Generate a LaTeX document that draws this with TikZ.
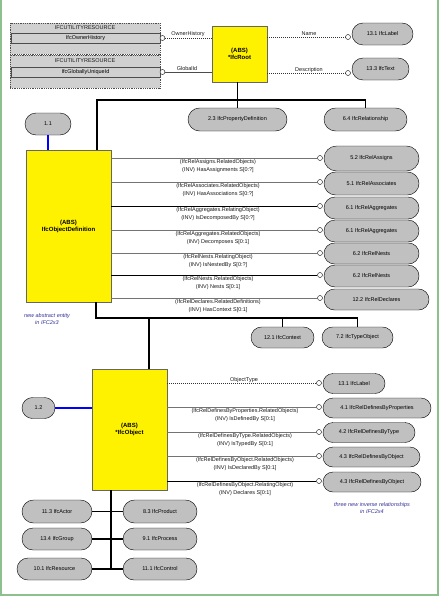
\documentclass[tikz,border=0pt]{standalone}
\usepackage{fontspec}
\setmainfont{Liberation Sans}
\usetikzlibrary{shapes.misc}
\definecolor{ovalgray}{HTML}{C0C0C0}
\definecolor{boxgray}{HTML}{D0D0D0}
\definecolor{notecol}{HTML}{333399}
\definecolor{linkblue}{HTML}{0000FF}
\definecolor{framegreen}{HTML}{8CC08C}
\begin{document}
\begin{tikzpicture}[x=1pt,y=-1pt,
 oval/.style={rounded rectangle, draw=black, fill=ovalgray, font=\fontsize{5.5}{6.5}\selectfont, inner sep=0pt, minimum height=22pt},
 ybox/.style={rectangle, draw=black!60, fill=yellow, font=\fontsize{6}{7}\selectfont\bfseries, align=center, inner sep=0pt},
 circ/.style={circle, draw=black, fill=white, minimum size=5pt, inner sep=0pt},
 rel/.style={draw=black!55, line width=0.6pt},
 relk/.style={draw=black, line width=0.9pt},
 dotrel/.style={draw=black!80, line width=0.7pt, dash pattern=on 1.2pt off 0.8pt},
 tree/.style={draw=black, line width=1.6pt},
 bluelink/.style={draw=linkblue, line width=1.3pt},
 rlab/.style={font=\fontsize{5.5}{7.8}\selectfont, align=center, inner sep=0pt, text=black!90},
 slab/.style={font=\fontsize{5.5}{6.5}\selectfont, inner sep=0pt, text=black!90},
 note/.style={font=\fontsize{5.5}{7}\selectfont\itshape, text=notecol, align=center, inner sep=0pt},
 ubox/.style={rectangle, draw=black!70, dash pattern=on 1pt off 0.8pt, fill=boxgray, inner sep=0pt, minimum width=150pt},
 urow/.style={rectangle, draw=black!70, fill=boxgray, inner sep=0pt, minimum width=149pt, minimum height=10pt, font=\fontsize{5.5}{6.5}\selectfont},
 uhead/.style={font=\fontsize{5.5}{6.5}\selectfont, inner sep=0pt, text=black!90}
]
\useasboundingbox (0,0) rectangle (441,597);
\fill[white] (0,0) rectangle (441,597);
\draw[framegreen, line width=1.5pt] (1,0) -- (1,595) -- (438,595) -- (438,0);

% utility resource boxes
\node[ubox, minimum height=31pt] (ua) at (85,38.5) {};
\node[uhead] (uah) at (85,27.5) {IFCUTILITYRESOURCE};
\node[urow] (uar) at (85.5,38) {IfcOwnerHistory};
\node[ubox, minimum height=33pt] (ub) at (85,71.5) {};
\node[uhead] (ubh) at (85,60.5) {IFCUTILITYRESOURCE};
\node[urow] (ubr) at (85.5,72) {IfcGloballyUniqueId};
\node[circ] (cua) at (162.5,38) {};
\node[circ] (cub) at (162.5,72) {};

% IfcRoot
\node[ybox, minimum width=55pt, minimum height=56pt] (root) at (239.5,54) {(ABS)\\*IfcRoot};
\draw[dotrel] (cua.east) -- (root.west |- cua);
\draw[rel, draw=black!70] (cub.east) -- (root.west |- cub);
\node[slab] (lown) at (188,34) {OwnerHistory};
\node[slab] (lgid) at (187,68.5) {GlobalId};

\node[oval, minimum width=61pt] (lab1) at (382.5,34) {13.1 IfcLabel};
\node[oval, minimum width=57pt] (txt1) at (380.5,69) {13.3 IfcText};
\node[circ] (cn) at (348,37) {};
\node[circ] (cd) at (348,73) {};
\draw[dotrel] (root.east |- cn) -- (cn.west);
\draw[dotrel] (root.east |- cd) -- (cd.west);
\node[slab] (lname) at (309,34) {Name};
\node[slab] (ldesc) at (309,70.5) {Description};

% level 2
\node[oval, minimum width=99pt, minimum height=23pt] (pdef) at (237.5,119.5) {2.3 IfcPropertyDefinition};
\node[oval, minimum width=83pt, minimum height=23pt] (rship) at (365.5,119.5) {6.4 IfcRelationship};
\node[oval, minimum width=46pt] (o11) at (48,124) {1.1};
\node[ybox, minimum width=85pt, minimum height=152pt] (odef) at (68.5,226) {(ABS)\\IfcObjectDefinition};
\coordinate (tl) at (97,100);
\draw[tree] (root.south -| pdef.north) -- (pdef.north);
\draw[tree] (odef.north -| tl) -- (tl) -- (rship.north |- tl) -- (rship.north);
\draw[bluelink] (o11.south) -- (odef.north -| o11.south);

% relationships of IfcObjectDefinition
\node[oval, minimum width=95pt, minimum height=25pt] (r1) at (371.5,158.5) {5.2 IfcRelAssigns};
\node[oval, minimum width=95pt, minimum height=23pt] (r2) at (371.5,183.5) {5.1 IfcRelAssociates};
\node[oval, minimum width=95pt, minimum height=22pt] (r3) at (371.5,208) {6.1 IfcRelAggregates};
\node[oval, minimum width=95pt, minimum height=22pt] (r4) at (371.5,231) {6.1 IfcRelAggregates};
\node[oval, minimum width=95pt, minimum height=21pt] (r5) at (371.5,253.5) {6.2 IfcRelNests};
\node[oval, minimum width=95pt, minimum height=22pt] (r6) at (371.5,276) {6.2 IfcRelNests};
\node[oval, minimum width=105pt, minimum height=21pt] (r7) at (376.5,299.5) {12.2 IfcRelDeclares};
\node[circ] (c1) at (320,158) {};
\node[circ] (c2) at (320,182) {};
\node[circ] (c3) at (320,206) {};
\node[circ] (c4) at (320,230) {};
\node[circ] (c5) at (320,253) {};
\node[circ] (c6) at (320,275) {};
\node[circ] (c7) at (320,298) {};
\draw[rel] (odef.east |- c1) -- (c1.west);
\draw[rel] (odef.east |- c2) -- (c2.west);
\draw[relk] (odef.east |- c3) -- (c3.west);
\draw[rel] (odef.east |- c4) -- (c4.west);
\draw[rel] (odef.east |- c5) -- (c5.west);
\draw[relk] (odef.east |- c6) -- (c6.west);
\draw[rel] (odef.east |- c7) -- (c7.west);
\node[rlab, anchor=north] (t1) at (218,159.5) {(IfcRelAssigns.RelatedObjects)\\(INV) HasAssignments S[0:?]};
\node[rlab, anchor=north] (t2) at (218,183.5) {(IfcRelAssociates.RelatedObjects)\\(INV) HasAssociations S[0:?]};
\node[rlab, anchor=north] (t3) at (218,207.5) {(IfcRelAggregates.RelatingObject)\\(INV) IsDecomposedBy S[0:?]};
\node[rlab, anchor=north] (t4) at (218,231.5) {(IfcRelAggregates.RelatedObjects)\\(INV) Decomposes S[0:1]};
\node[rlab, anchor=north] (t5) at (218,254.5) {(IfcRelNests.RelatingObject)\\(INV) IsNestedBy S[0:?]};
\node[rlab, anchor=north] (t6) at (218,276.5) {(IfcRelNests.RelatedObjects)\\(INV) Nests S[0:1]};
\node[rlab, anchor=north] (t7) at (218,299.5) {(IfcRelDeclares.RelatedDefinitions)\\(INV) HasContext S[0:1]};
\node[note] (n1) at (47,319.5) {new abstract entity\\in IFC2x3};

% level 3
\node[oval, minimum width=63pt, minimum height=21pt] (ctx) at (282.5,337.5) {12.1 IfcContext};
\node[oval, minimum width=71pt, minimum height=21pt] (tobj) at (357.5,337.5) {7.2 IfcTypeObject};
\node[ybox, minimum width=75pt, minimum height=121pt] (obj) at (129.5,429.5) {(ABS)\\*IfcObject};
\node[oval, minimum width=33pt, minimum height=21pt] (o12) at (38.5,408) {1.2};
\coordinate (ml) at (96,318);
\coordinate (mo) at (149,318);
\draw[tree] (odef.south -| ml) -- (ml) -- (tobj.north |- ml) -- (tobj.north);
\draw[tree] (ctx.north |- ml) -- (ctx.north);
\draw[tree] (mo) -- (obj.north -| mo);
\draw[bluelink] (o12.east) -- (obj.west |- o12.east);

% relationships of IfcObject
\node[oval, minimum width=62pt, minimum height=20pt] (lab2) at (354,383.5) {13.1 IfcLabel};
\node[oval, minimum width=108pt, minimum height=20pt] (d1) at (377,408) {4.1 IfcRelDefinesByProperties};
\node[oval, minimum width=92pt, minimum height=20pt] (d2) at (369,432.5) {4.2 IfcRelDefinesByType};
\node[oval, minimum width=97pt, minimum height=20pt] (d3) at (371.5,457) {4.3 IfcRelDefinesByObject};
\node[oval, minimum width=98pt, minimum height=20pt] (d4) at (372,482) {4.3 IfcRelDefinesByObject};
\node[circ] (e0) at (319,383) {};
\node[circ] (e1) at (319,407) {};
\node[circ] (e2) at (319,432) {};
\node[circ] (e3) at (319,456) {};
\node[circ] (e4) at (319,481) {};
\draw[dotrel] (obj.east |- e0) -- (e0.west);
\draw[rel] (obj.east |- e1) -- (e1.west);
\draw[rel] (obj.east |- e2) -- (e2.west);
\draw[rel] (obj.east |- e3) -- (e3.west);
\draw[relk] (obj.east |- e4) -- (e4.west);
\node[slab] (lot) at (244,380) {ObjectType};
\node[rlab, anchor=north] (s1) at (245,408.5) {(IfcRelDefinesByProperties.RelatedObjects)\\(INV) IsDefinedBy S[0:1]};
\node[rlab, anchor=north] (s2) at (245,433.5) {(IfcRelDefinesByType.RelatedObjects)\\(INV) IsTypedBy S[0:1]};
\node[rlab, anchor=north] (s3) at (245,457.5) {(IfcRelDefinesByObject.RelatedObjects)\\(INV) IsDeclaredBy S[0:1]};
\node[rlab, anchor=north] (s4) at (245,482.5) {(IfcRelDefinesByObject.RelatingObject)\\(INV) Declares S[0:1]};
\node[note] (n2) at (372,508) {three new inverse relationships\\in IFC2x4};

% subtypes of IfcObject
\node[oval, minimum width=70pt, minimum height=23pt] (actor) at (57,511.5) {11.3 IfcActor};
\node[oval, minimum width=74pt, minimum height=23pt] (prod) at (160,511.5) {8.3 IfcProduct};
\node[oval, minimum width=70pt, minimum height=22pt] (grp) at (57,539) {13.4 IfcGroup};
\node[oval, minimum width=74pt, minimum height=22pt] (proc) at (160,539) {9.1 IfcProcess};
\node[oval, minimum width=75pt, minimum height=22pt] (res) at (54.5,569) {10.1 IfcResource};
\node[oval, minimum width=74pt, minimum height=22pt] (ctrl) at (160,569) {11.1 IfcControl};
\coordinate (bt) at (111,569);
\draw[tree] (obj.south -| bt) -- (bt);
\draw[tree] (actor.east) -- (prod.west);
\draw[tree] (grp.east) -- (proc.west);
\draw[tree] (res.east) -- (ctrl.west);
\end{tikzpicture}
\end{document}
